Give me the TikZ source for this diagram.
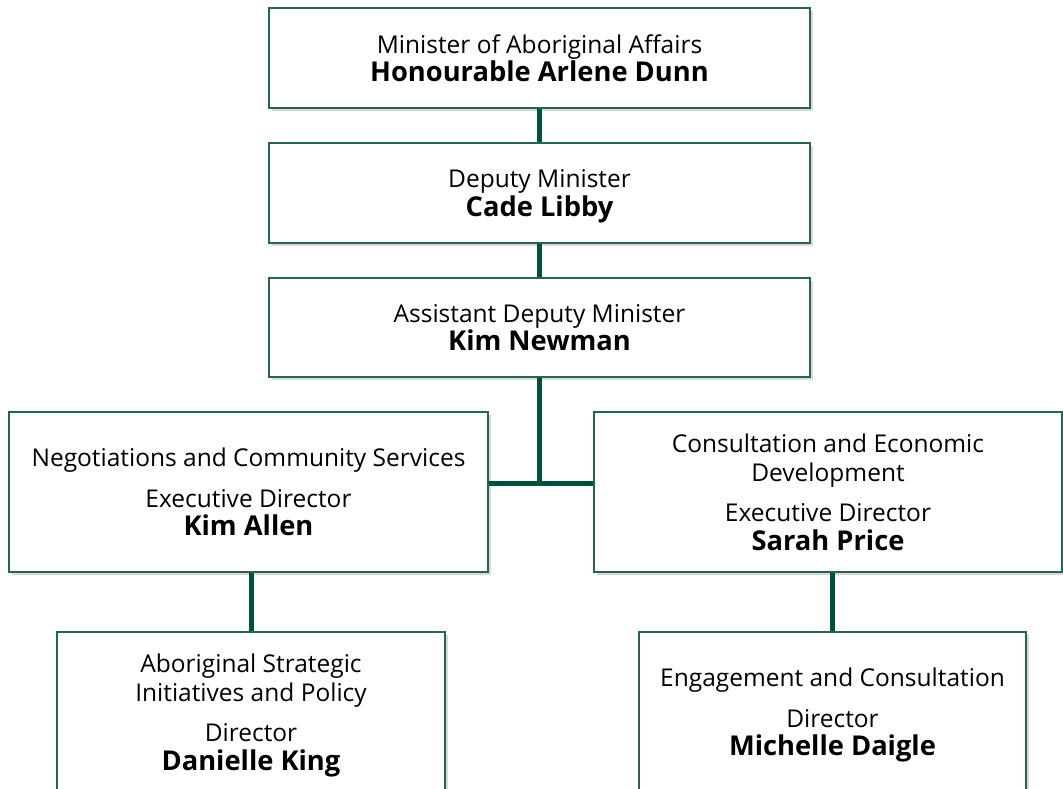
\documentclass[tikz,border=0pt]{standalone}
\usepackage{fontspec}
\setmainfont{Open Sans}
\usetikzlibrary{shadows}
\definecolor{framegreen}{RGB}{40,100,85}
\definecolor{linkgreen}{RGB}{0,80,62}
\newcommand\incumbent[1]{{\fontsize{27.3}{28.5}\selectfont\bfseries #1}}

\begin{document}
\begin{tikzpicture}[x=1pt,y=-1pt,
   post/.style={draw=framegreen, line width=1.2pt, fill=white, align=center, inner sep=0pt,
     font=\fontsize{24.5}{28.5}\selectfont, text depth=0pt,
     drop shadow={shadow xshift=2.5pt, shadow yshift=-3pt, opacity=0.3}},
   link/.style={draw=linkgreen, line width=5pt}]
   \useasboundingbox (0,0) rectangle (1063,788);
   \clip (0,0) rectangle (1063,788);
   % top chain
   \node[post, minimum width=541pt, minimum height=100pt] (minister) at (539.5,58)
      {Minister of Aboriginal Affairs\\ \incumbent{Honourable Arlene Dunn}};
   \node[post, minimum width=541pt, minimum height=100pt] (deputy) at (539.5,193)
      {Deputy Minister\\ \incumbent{Cade Libby}};
   \node[post, minimum width=541pt, minimum height=99pt] (assistant) at (539.5,327.5)
      {Assistant Deputy Minister\\ \incumbent{Kim Newman}};
   % divisions
   \node[post, minimum width=479pt, minimum height=160pt] (negotiations) at (248.5,492)
      {Negotiations and Community Services\\[12pt] Executive Director\\ \incumbent{Kim Allen}};
   \node[post, minimum width=468pt, minimum height=160pt] (consultation) at (828,492)
      {Consultation and Economic\\ Development\\[12pt] Executive Director\\ \incumbent{Sarah Price}};
   % branches
   \node[post, minimum width=388pt, minimum height=160pt] (strategic) at (251,712)
      {Aboriginal Strategic\\ Initiatives and Policy\\[12pt] Director\\ \incumbent{Danielle King}};
   \node[post, minimum width=387pt, minimum height=160pt] (engagement) at (832.5,712)
      {Engagement and Consultation\\[12pt] Director\\ \incumbent{Michelle Daigle}};
   \coordinate (fork) at (539.5,483);
   \draw[link] (minister) -- (deputy);
   \draw[link] (deputy) -- (assistant);
   \draw[link] (assistant) -- (fork);
   \draw[link] (negotiations.east |- fork) -- (consultation.west |- fork);
   \draw[link] (strategic.north) -- (strategic.north |- negotiations.south);
   \draw[link] (engagement.north) -- (engagement.north |- consultation.south);
\end{tikzpicture}
\end{document}
